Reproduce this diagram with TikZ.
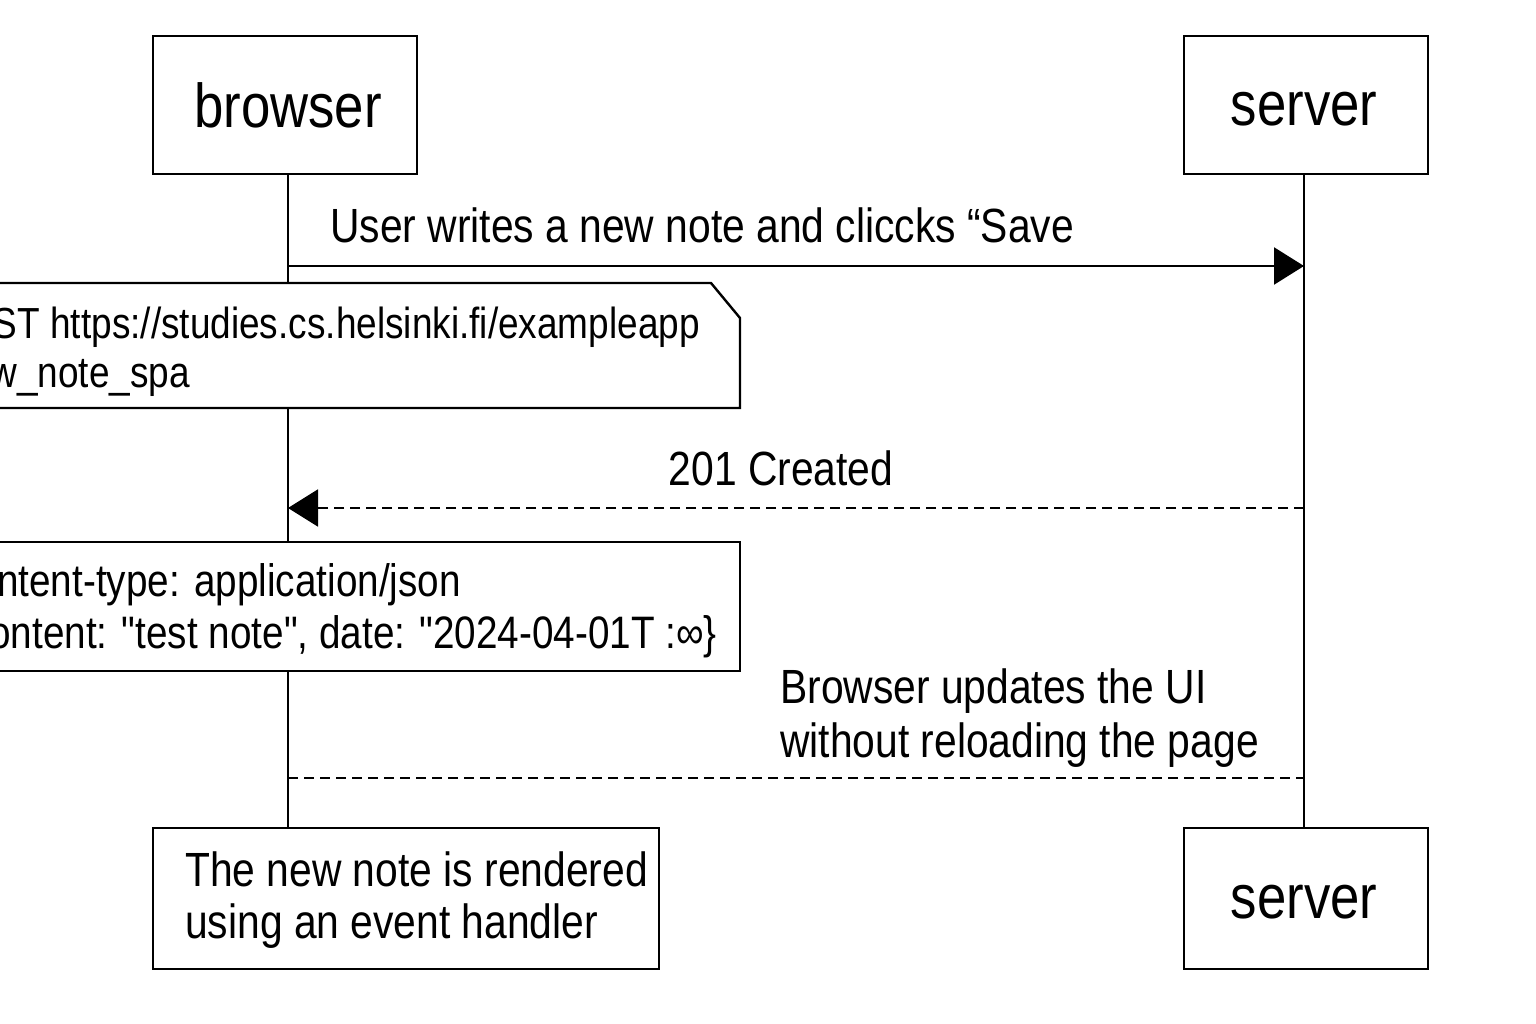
\documentclass[tikz,border=0pt]{standalone}
\usepackage{fontspec}
\setmainfont{Liberation Sans}[FakeStretch=0.85,Ligatures=TeXOff]
\usetikzlibrary{arrows.meta}
\begin{document}
\begin{tikzpicture}[x=1pt,y=-1pt,
  actor/.style={draw=black,line width=2.4pt,fill=white,minimum width=264pt,minimum height=138pt,inner sep=0pt},
  lifeline/.style={line width=2pt},
  notebox/.style={draw=black,line width=2.4pt,fill=white},
  lbl/.style={inner sep=0pt,font=\fontsize{48}{54}\selectfont},
  ntxt/.style={inner sep=0pt,font=\fontsize{45.5}{50}\selectfont},
  ntxtA/.style={inner sep=0pt,font=\fontsize{43.5}{50}\selectfont},
  big/.style={font=\fontsize{62}{70}\selectfont},
  msg/.style={line width=2.4pt,-{Triangle[length=30pt,width=37pt]}},
  reply/.style={line width=2pt,dash pattern=on 10pt off 6pt},
  replyarrow/.style={reply,-{Triangle[length=30pt,width=37pt]}}
]
\useasboundingbox (0,0) rectangle (1536,1024);
\fill[white] (0,0) rectangle (1536,1024);

% actors
\node[actor,anchor=north west] (browser) at (152,35) {};
\node[big,inner sep=0pt,anchor=base] (browserT) at (288,128) {browser};
\node[actor,anchor=north west,minimum width=244pt] (server) at (1183,35) {};
\node[big,inner sep=0pt,anchor=base] (serverT) at (1304,126) {server};
\node[actor,anchor=north west,minimum width=244pt,minimum height=141pt] (serverB) at (1183,827) {};
\node[big,inner sep=0pt,anchor=base] (serverBT) at (1304,918) {server};
\node[actor,anchor=north west,minimum width=506pt,minimum height=141pt] (render) at (152,827) {};
\node[lbl,anchor=base west] (renderT1) at (185,886) {The new note is rendered};
\node[lbl,anchor=base west] (renderT2) at (185,938) {using an event handler};

% lifeline anchors
\coordinate (b1) at (288,266);
\coordinate (s1) at (1304,266);

% lifelines
\draw[lifeline] (browser.south -| b1) -- (render.north -| b1);
\draw[lifeline] (server.south -| s1) -- (serverB.north -| s1);

% message 1
\draw[msg] (b1) -- (s1);
\node[lbl,anchor=base west] (m1) at (330,243) {User writes a new note and cliccks “Save};

% note 1
\draw[notebox] (-5,283) -- (711,283) -- (740,318) -- (740,408) -- (-5,408) -- cycle;
\node[ntxtA,anchor=base east] (n1a) at (700,338) {ST https://studies.cs.helsinki.fi/exampleapp};
\node[ntxtA,anchor=base east] (n1b) at (190,387) {w\_note\_spa};

% message 2
\coordinate (s2) at (1304,508);
\coordinate (b2) at (288,508);
\draw[replyarrow] (s2) -- (b2);
\node[lbl,anchor=base] (m2) at (781,485) {201 Created};

% note 2
\draw[notebox] (-5,542) rectangle (740,671);
\node[ntxt,anchor=base east] (n2a) at (461,596) {ntent-type: application/json};
\node[ntxt,anchor=base east] (n2b) at (717,648) {ontent: "test note", date: "2024-04-01T :∞\}};

% message 3
\node[lbl,anchor=base west] (m3a) at (780,703) {Browser updates the UI};
\node[lbl,anchor=base west] (m3b) at (780,757) {without reloading the page};
\coordinate (b3) at (288,778);
\coordinate (s3) at (1304,778);
\draw[reply] (b3) -- (s3);
\end{tikzpicture}
\end{document}
